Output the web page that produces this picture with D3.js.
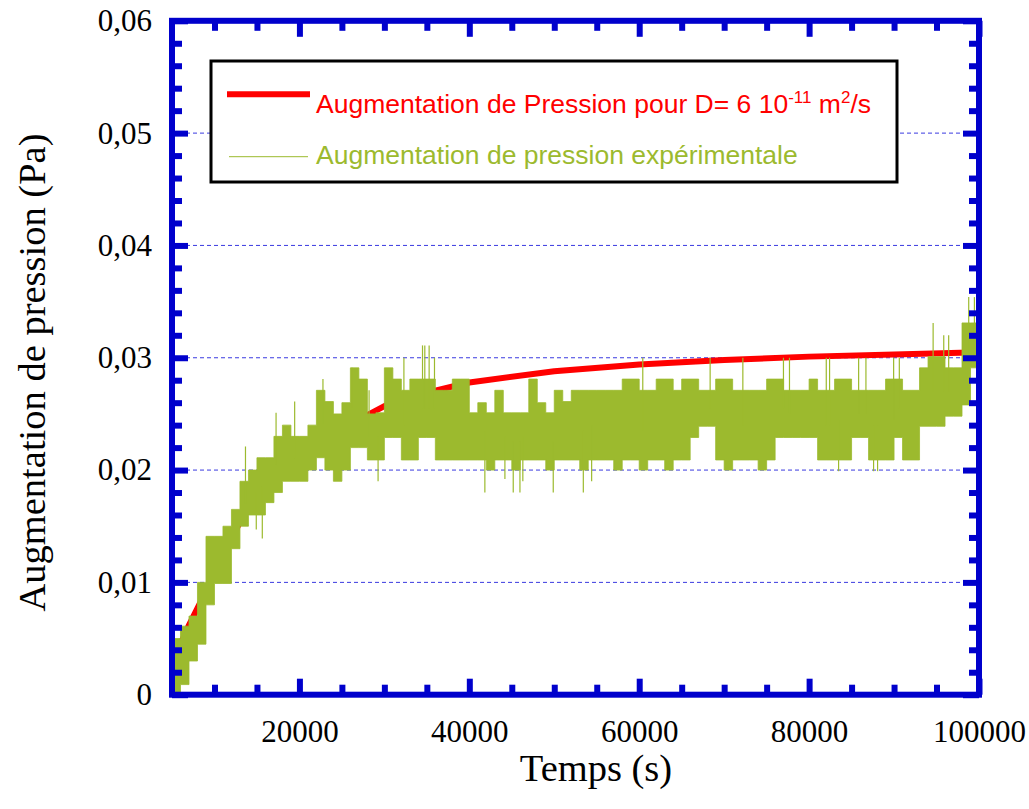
<!DOCTYPE html>
<html><head><meta charset="utf-8">
<script src="https://cdn.jsdelivr.net/npm/d3@7"></script>
<style>body{margin:0;background:#fff} svg{display:block}</style>
</head><body>
<svg id="c" width="1029" height="809"></svg>
<script>
// ---------- data ----------
// model curve (red)
const modelTime = [5000,6000,7000,8000,9000,10000,11000,12000,13000,14000,15000,16000,17000,18000,19000,20000,22500,25000,27500,30000,35000,40000,50000,60000,70000,80000,90000,100000];
const modelPressure = [0.0030,0.0045,0.0062,0.0077,0.0092,0.0106,0.0120,0.0138,0.0154,0.0166,0.0175,0.0184,0.0192,0.0199,0.0206,0.0211,0.0225,0.0236,0.0247,0.0257,0.0269,0.0278,0.0288,0.0294,0.0298,0.0301,0.0303,0.0305];

// experimental record (green): dense noisy signal read as 1000 s bins (start time, lower and upper level)
const expTime = [5000,6000,7000,8000,9000,10000,11000,12000,13000,14000,15000,16000,17000,18000,19000,20000,21000,22000,23000,24000,25000,26000,27000,28000,29000,30000,31000,32000,33000,34000,35000,36000,37000,38000,39000,40000,41000,42000,43000,44000,45000,46000,47000,48000,49000,50000,51000,52000,53000,54000,55000,56000,57000,58000,59000,60000,61000,62000,63000,64000,65000,66000,67000,68000,69000,70000,71000,72000,73000,74000,75000,76000,77000,78000,79000,80000,81000,82000,83000,84000,85000,86000,87000,88000,89000,90000,91000,92000,93000,94000,95000,96000,97000,98000,99000,100000];
const expLow = [0.0000,0.0009,0.0030,0.0045,0.0080,0.0099,0.0099,0.0130,0.0150,0.0160,0.0160,0.0171,0.0180,0.0190,0.0190,0.0190,0.0200,0.0211,0.0200,0.0190,0.0200,0.0220,0.0220,0.0209,0.0209,0.0229,0.0229,0.0209,0.0209,0.0229,0.0229,0.0209,0.0209,0.0209,0.0209,0.0209,0.0209,0.0200,0.0209,0.0209,0.0200,0.0209,0.0209,0.0209,0.0200,0.0209,0.0209,0.0209,0.0200,0.0209,0.0209,0.0209,0.0200,0.0209,0.0209,0.0200,0.0209,0.0209,0.0200,0.0209,0.0209,0.0229,0.0239,0.0239,0.0209,0.0200,0.0209,0.0209,0.0209,0.0200,0.0209,0.0229,0.0229,0.0229,0.0229,0.0229,0.0209,0.0209,0.0209,0.0209,0.0229,0.0229,0.0209,0.0209,0.0209,0.0229,0.0209,0.0209,0.0239,0.0239,0.0239,0.0248,0.0248,0.0258,0.0291,0.0291];
const expHigh = [0.0050,0.0061,0.0070,0.0100,0.0141,0.0141,0.0150,0.0165,0.0190,0.0200,0.0211,0.0211,0.0230,0.0240,0.0230,0.0230,0.0240,0.0271,0.0261,0.0250,0.0260,0.0291,0.0281,0.0250,0.0251,0.0291,0.0281,0.0271,0.0281,0.0281,0.0281,0.0271,0.0271,0.0281,0.0281,0.0251,0.0260,0.0251,0.0271,0.0251,0.0251,0.0251,0.0281,0.0260,0.0251,0.0271,0.0261,0.0271,0.0271,0.0271,0.0271,0.0271,0.0271,0.0281,0.0281,0.0271,0.0271,0.0281,0.0281,0.0271,0.0281,0.0281,0.0271,0.0271,0.0281,0.0281,0.0271,0.0271,0.0271,0.0271,0.0281,0.0281,0.0271,0.0271,0.0271,0.0281,0.0271,0.0271,0.0281,0.0281,0.0271,0.0271,0.0271,0.0271,0.0281,0.0281,0.0271,0.0271,0.0291,0.0301,0.0301,0.0291,0.0291,0.0331,0.0331,0.0331];
// isolated excursions of the experimental record
const spikeTime = [13650,14920,15630,17250,19440,22770,26200,28200,29260,32300,34490,34760,35270,35900,41830,44190,45170,45960,46300,49880,53420,54400,60420,68350,72200,76980,77690,82020,82410,83470,85830,86690,87590,88060,89950,90620,94600,95850,96430,98790,99460];
const spikeValue = [0.0221,0.0147,0.0139,0.0251,0.0261,0.0281,0.0291,0.0271,0.0190,0.0300,0.0311,0.0311,0.0311,0.0300,0.0180,0.0192,0.0180,0.0180,0.0190,0.0180,0.0180,0.0190,0.0300,0.0300,0.0300,0.0300,0.0300,0.0300,0.0300,0.0199,0.0300,0.0300,0.0199,0.0199,0.0300,0.0300,0.0331,0.0320,0.0320,0.0354,0.0354];

// ticks
const xMajorTicks = [20000,40000,60000,80000,100000];
const xTickLabels = ["20000","40000","60000","80000","100000"];
const xMinorTicks = [10000,15000,25000,30000,35000,45000,50000,55000,65000,70000,75000,85000,90000,95000];
const yMajorTicks = [0,0.01,0.02,0.03,0.04,0.05,0.06];
const yTickLabels = ["0","0,01","0,02","0,03","0,04","0,05","0,06"];
const yMinorTicks = [0.002,0.004,0.006,0.008,0.012,0.014,0.016,0.018,0.022,0.024,0.026,0.028,0.032,0.034,0.036,0.038,0.042,0.044,0.046,0.048,0.052,0.054,0.056,0.058];
const gridValues = [0.01,0.02,0.03,0.04,0.05];

const xTitle = "Temps (s)";
const yTitle = "Augmentation de pression (Pa)";
const legendModel = ["Augmentation de Pression pour D= 6 10", "-11", " m", "2", "/s"];
const legendExp = "Augmentation de pression expérimentale";

// ---------- drawing ----------
const BLUE = "#0000cc", RED = "#ff0000", GREEN = "#9cba2e";
const svg = d3.select("#c");
const x = d3.scaleLinear().domain([5000,100000]).range([172,979]);
const y = d3.scaleLinear().domain([0,0.06]).range([694.7,20.8]);

svg.append("defs").append("clipPath").attr("id","plot")
  .append("rect").attr("x",x(5000)).attr("y",y(0.06)).attr("width",x(100000)-x(5000)).attr("height",y(0)-y(0.06));

// grid
svg.append("g").selectAll("line").data(gridValues).join("line")
  .attr("x1",x(5000)).attr("x2",x(100000)).attr("y1",d=>y(d)).attr("y2",d=>y(d))
  .attr("stroke","#3a3ae0").attr("stroke-width",1).attr("stroke-dasharray","4,3");

const plot = svg.append("g").attr("clip-path","url(#plot)");

// model
const model = modelTime.map((t,i)=>[t,modelPressure[i]]);
plot.append("path").datum(model)
  .attr("d", d3.line().x(d=>x(d[0])).y(d=>y(d[1])))
  .attr("fill","none").attr("stroke",RED).attr("stroke-width",6).attr("stroke-linejoin","round");

// experimental band
const exp = expTime.map((t,i)=>({t, lo:expLow[i], hi:expHigh[i]}));
plot.append("path").datum(exp)
  .attr("d", d3.area().curve(d3.curveStepAfter).x(d=>x(d.t)).y0(d=>y(d.lo)).y1(d=>y(d.hi)))
  .attr("fill",GREEN).attr("stroke",GREEN).attr("stroke-width",0.8);

// spikes
const bis = d3.bisector(d=>d.t).right;
const spikes = spikeTime.map((t,i)=>{
  const b = exp[Math.max(0,bis(exp,t)-1)];
  return [[t,(b.lo+b.hi)/2],[t,spikeValue[i]]];
});
plot.append("g").selectAll("path").data(spikes).join("path")
  .attr("d", d3.line().x(d=>x(d[0])).y(d=>y(d[1])))
  .attr("stroke",GREEN).attr("stroke-width",1.2).attr("fill","none");

// axes
function styleAxis(g){
  g.select(".domain").remove();
  g.selectAll(".tick line").attr("stroke",BLUE).attr("stroke-width",6);
  g.selectAll(".tick text").attr("fill","#000").attr("font-family","'Liberation Serif','Times New Roman',serif").attr("font-size",31);
}
svg.append("g").attr("transform",`translate(0,${y(0)})`)
  .call(d3.axisBottom(x).tickValues(xMajorTicks).tickSize(-16).tickPadding(25).tickFormat((d,i)=>xTickLabels[i])).call(styleAxis);
svg.append("g").attr("transform",`translate(0,${y(0)})`)
  .call(d3.axisBottom(x).tickValues(xMinorTicks).tickSize(-10).tickFormat("")).call(styleAxis);
svg.append("g").attr("transform",`translate(0,${y(0.06)})`)
  .call(d3.axisTop(x).tickValues(xMajorTicks).tickSize(-16).tickFormat("")).call(styleAxis);
svg.append("g").attr("transform",`translate(0,${y(0.06)})`)
  .call(d3.axisTop(x).tickValues(xMinorTicks).tickSize(-10).tickFormat("")).call(styleAxis);
svg.append("g").attr("transform",`translate(${x(5000)},0)`)
  .call(d3.axisLeft(y).tickValues(yMajorTicks).tickSize(-16).tickPadding(20).tickFormat((d,i)=>yTickLabels[i])).call(styleAxis);
svg.append("g").attr("transform",`translate(${x(5000)},0)`)
  .call(d3.axisLeft(y).tickValues(yMinorTicks).tickSize(-10).tickFormat("")).call(styleAxis);
svg.append("g").attr("transform",`translate(${x(100000)},0)`)
  .call(d3.axisRight(y).tickValues(yMajorTicks).tickSize(-16).tickFormat("")).call(styleAxis);
svg.append("g").attr("transform",`translate(${x(100000)},0)`)
  .call(d3.axisRight(y).tickValues(yMinorTicks).tickSize(-10).tickFormat("")).call(styleAxis);

// frame
svg.append("rect").attr("x",x(5000)).attr("y",y(0.06)).attr("width",x(100000)-x(5000)).attr("height",y(0)-y(0.06))
  .attr("fill","none").attr("stroke",BLUE).attr("stroke-width",6);

// titles
svg.append("text").attr("x",596).attr("y",781).attr("text-anchor","middle")
  .attr("font-family","'Liberation Serif','Times New Roman',serif").attr("font-size",38.5).text(xTitle);
svg.append("text").attr("transform","translate(45,372.5) rotate(-90)").attr("text-anchor","middle")
  .attr("font-family","'Liberation Serif','Times New Roman',serif").attr("font-size",38.5).text(yTitle);

// legend
const lg = svg.append("g");
lg.append("rect").attr("x",211).attr("y",61).attr("width",686).attr("height",121)
  .attr("fill","#fff").attr("stroke","#000").attr("stroke-width",3);
lg.append("line").attr("x1",227).attr("x2",310).attr("y1",94.3).attr("y2",94.3).attr("stroke",RED).attr("stroke-width",6);
lg.append("line").attr("x1",229).attr("x2",308).attr("y1",156.7).attr("y2",156.7).attr("stroke",GREEN).attr("stroke-width",1);
const t1 = lg.append("text").attr("x",316).attr("y",112.5)
  .attr("font-family","'Liberation Sans',Arial,sans-serif").attr("font-size",26.5).attr("fill",RED);
t1.append("tspan").text(legendModel[0]);
t1.append("tspan").attr("font-size",17).attr("dy",-10).text(legendModel[1]);
t1.append("tspan").attr("dy",10).text(legendModel[2]);
t1.append("tspan").attr("font-size",17).attr("dy",-10).text(legendModel[3]);
t1.append("tspan").attr("dy",10).text(legendModel[4]);
lg.append("text").attr("x",316).attr("y",164)
  .attr("font-family","'Liberation Sans',Arial,sans-serif").attr("font-size",26.5).attr("fill",GREEN).text(legendExp);
</script>
</body></html>
